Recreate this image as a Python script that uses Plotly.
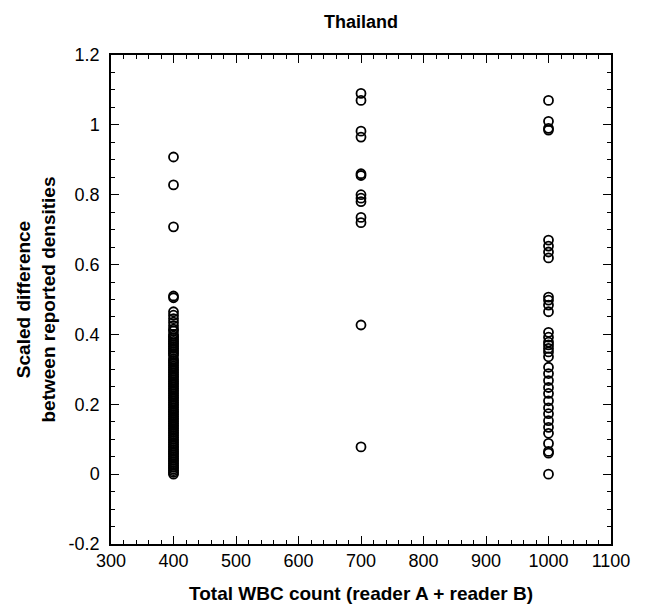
import plotly.graph_objects as go

# Total WBC count groups
wbc_400 = 400
wbc_700 = 700
wbc_1000 = 1000

# Scaled differences
diff_400 = [0.908, 0.828, 0.708, 0.51, 0.505, 0.465, 0.455, 0.445, 0.435, 0.425,
            0.415, 0.41, 0.40, 0.39, 0.38, 0.37, 0.36, 0.35, 0.345, 0.34, 0.33, 0.32,
            0.31, 0.30, 0.29, 0.28, 0.27, 0.26, 0.25, 0.24, 0.23, 0.22, 0.21, 0.20,
            0.19, 0.18, 0.17, 0.16, 0.15, 0.14, 0.13, 0.12, 0.11, 0.10, 0.09, 0.08,
            0.07, 0.06, 0.05, 0.04, 0.03, 0.02, 0.01, 0.0,
            0.395, 0.385, 0.375, 0.365, 0.355, 0.325, 0.315, 0.305, 0.295, 0.285,
            0.275, 0.265, 0.255, 0.245, 0.235, 0.225, 0.215, 0.205, 0.195, 0.185,
            0.175, 0.165, 0.155, 0.145, 0.135, 0.125, 0.115, 0.105, 0.095, 0.085,
            0.075, 0.065, 0.055, 0.045, 0.035, 0.025, 0.015, 0.005]
diff_700 = [1.09, 1.07, 0.982, 0.965, 0.86, 0.855, 0.80, 0.79, 0.78, 0.735, 0.72,
            0.427, 0.078]
diff_1000 = [1.07, 1.01, 0.99, 0.985, 0.67, 0.653, 0.636, 0.619, 0.507, 0.498,
             0.484, 0.465, 0.406, 0.392, 0.378, 0.37, 0.36, 0.35, 0.336, 0.306,
             0.288, 0.268, 0.248, 0.231, 0.21, 0.19, 0.173, 0.153, 0.134, 0.117,
             0.088, 0.065, 0.06, 0.0]

xs = [wbc_400] * len(diff_400) + [wbc_700] * len(diff_700) + [wbc_1000] * len(diff_1000)
ys = diff_400 + diff_700 + diff_1000

fig = go.Figure(go.Scatter(
    x=xs, y=ys, mode="markers",
    marker=dict(symbol="circle-open", size=9, color="black", line=dict(width=1.8, color="black")),
    showlegend=False,
))

font_family = "Liberation Sans, Arial, Helvetica, sans-serif"
axis_common = dict(
    showline=True, linecolor="black", linewidth=1.5, mirror="allticks",
    ticks="inside", ticklen=8, tickwidth=1.2, tickcolor="black",
    showgrid=False, zeroline=False, automargin=False,
    tickfont=dict(family=font_family, size=18, color="black"),
)

fig.update_xaxes(
    range=[300, 1100], dtick=100, tick0=300,
    minor=dict(dtick=20, ticks="inside", ticklen=4, tickwidth=1, tickcolor="black", showgrid=False),
    title=dict(text="<b>Total WBC count (reader A + reader B)</b>",
               font=dict(family=font_family, size=19, color="black"), standoff=16),
    **axis_common,
)
fig.update_yaxes(
    range=[-0.2, 1.2],
    tickvals=[-0.2, 0, 0.2, 0.4, 0.6, 0.8, 1.0, 1.2],
    ticktext=["-0.2", "0", "0.2", "0.4", "0.6", "0.8", "1", "1.2"],
    ticklabelstandoff=6,
    minor=dict(dtick=0.05, ticks="inside", ticklen=4, tickwidth=1, tickcolor="black", showgrid=False),
    title=dict(text="<b>Scaled difference<br>between reported densities</b>",
               font=dict(family=font_family, size=19, color="black"), standoff=8),
    **axis_common,
)

W, H = 633, 598
fig.update_layout(
    width=W, height=H,
    margin=dict(l=103, r=W - 603, t=47, b=H - 536),
    paper_bgcolor="white", plot_bgcolor="white",
    title=dict(text="<b>Thailand</b>", xref="paper", x=0.5, xanchor="center",
               yref="container", y=1 - 14 / H, yanchor="middle",
               font=dict(family=font_family, size=18, color="black")),
)

fig.write_html("out.html")
